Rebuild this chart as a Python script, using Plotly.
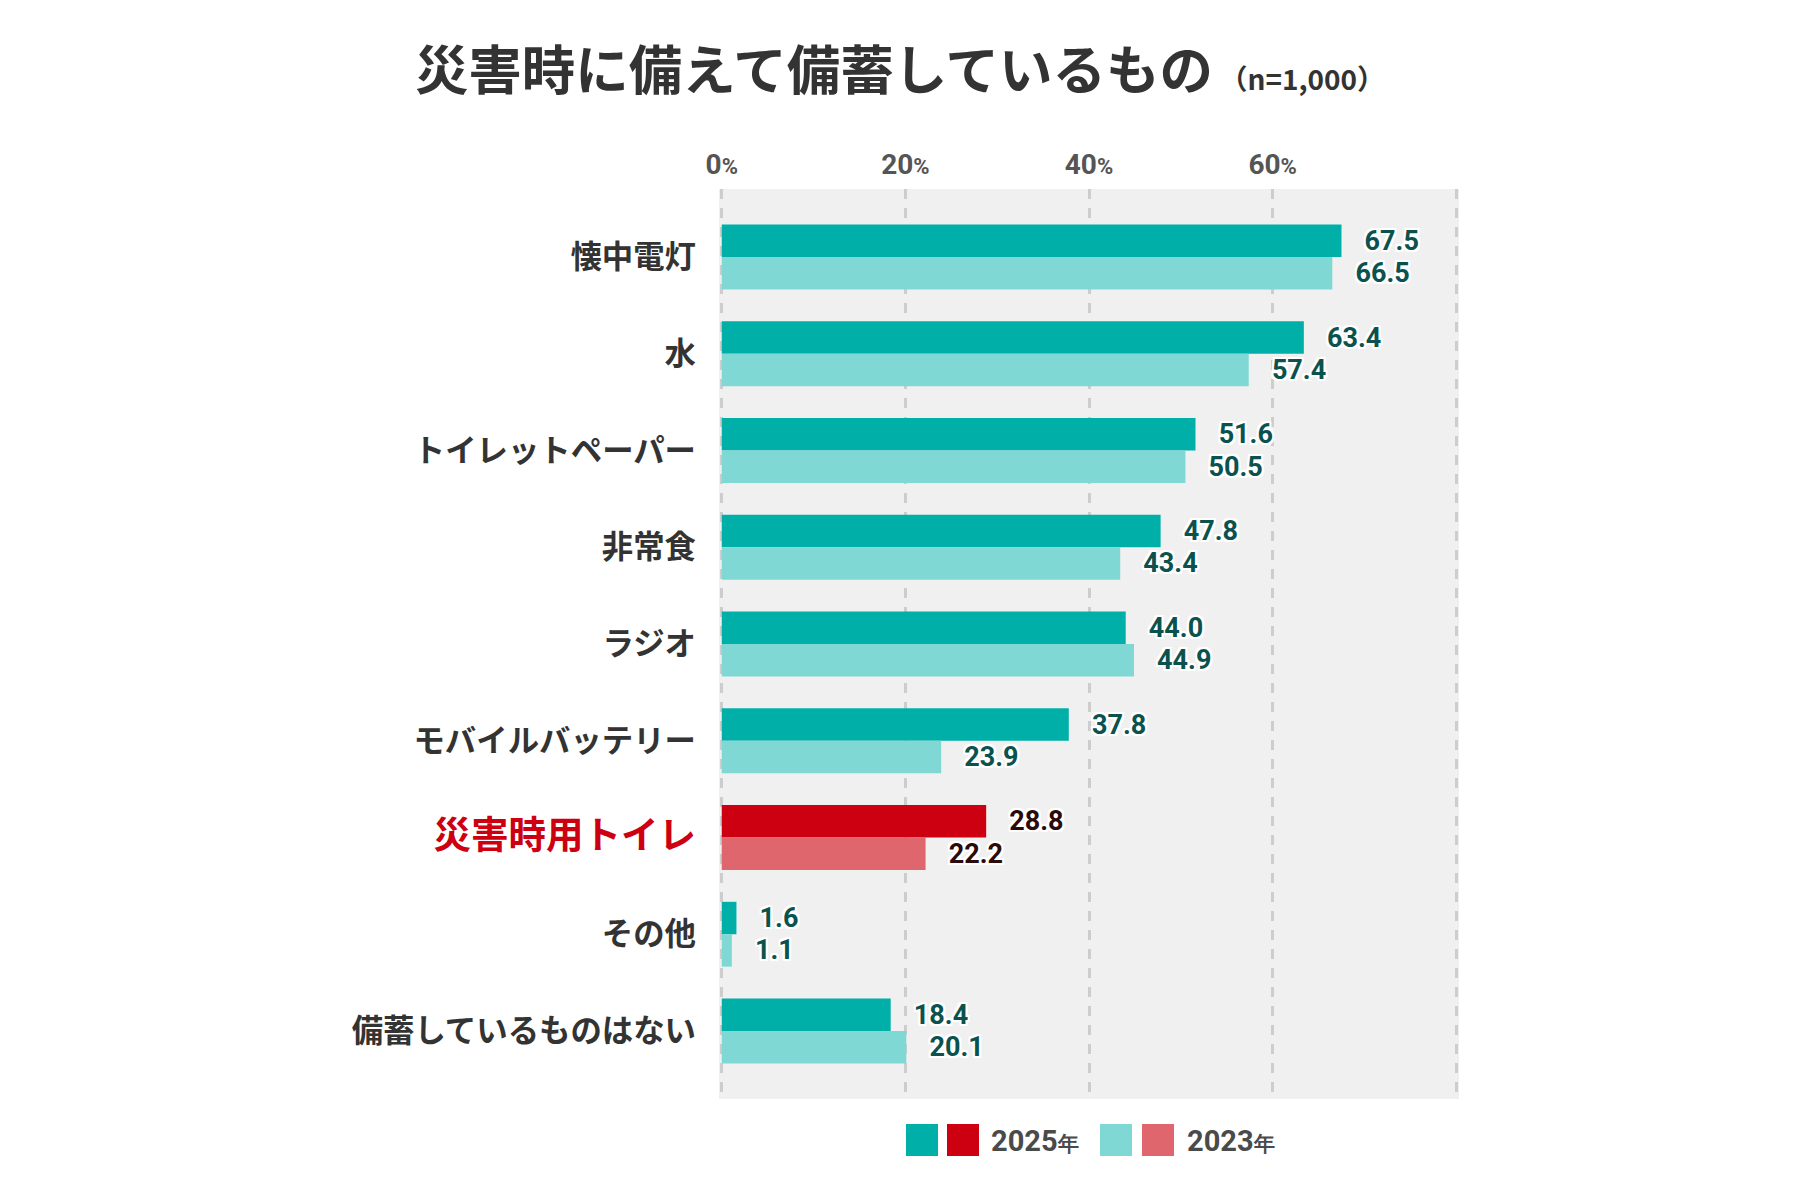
import plotly.graph_objects as go

categories = ["懐中電灯", "水", "トイレットペーパー", "非常食", "ラジオ",
              "モバイルバッテリー", "災害時用トイレ", "その他", "備蓄しているものはない"]
values_2025 = [67.5, 63.4, 51.6, 47.8, 44.0, 37.8, 28.8, 1.6, 18.4]
values_2023 = [66.5, 57.4, 50.5, 43.4, 44.9, 23.9, 22.2, 1.1, 20.1]
highlight = "災害時用トイレ"
x_ticks = [0, 20, 40, 60, 80]
x_ticklabels = ["0", "20", "40", "60", ""]

TEAL, TEAL_L = "#00b0a8", "#80d8d4"
RED, RED_L = "#cc0010", "#e0666e"
TXT_TEAL, TXT_RED = "#0b524e", "#2b0a0a"
JP = "Noto Sans CJK JP"
NUM = "Roboto"

W, H = 1800, 1200
L, R, T, B = 719, 341, 189, 101
PW, PH = W - L - R, H - T - B

def px2paper(x, y):
    return (x - L) / PW, (H - B - y) / PH

c25 = [RED if c == highlight else TEAL for c in categories]
c23 = [RED_L if c == highlight else TEAL_L for c in categories]
t25 = [TXT_RED if c == highlight else TXT_TEAL for c in categories]
t23 = [TXT_RED if c == highlight else TXT_TEAL for c in categories]

shadow = ("2px 2px 0 #fff, -2px -2px 0 #fff, 2px -2px 0 #fff, -2px 2px 0 #fff, "
          "0 2px 0 #fff, 0 -2px 0 #fff, 2px 0 0 #fff, -2px 0 0 #fff")
pad = "\u00a0\u00a0\u00a0"

fig = go.Figure()
for vals, cols, tcols, name in [(values_2025, c25, t25, "2025年"), (values_2023, c23, t23, "2023年")]:
    fig.add_trace(go.Bar(
        y=categories, x=vals, orientation="h", name=name,
        marker=dict(color=cols, line=dict(width=0)),
        texttemplate=pad + "%{x:.1f}", textposition="outside",
        textfont=dict(family=NUM, size=27, color=tcols, weight="bold", shadow=shadow),
        cliponaxis=False, showlegend=False,
    ))

y_ticktext = [
    f"<span style='color:{RED};font-size:37.5px'>{c}</span>" if c == highlight else c
    for c in categories
]

fig.update_layout(
    width=W, height=H, autosize=False,
    margin=dict(l=L, r=R, t=T, b=B),
    paper_bgcolor="white", plot_bgcolor="#f0f0f0",
    barmode="group", bargap=0.33, bargroupgap=0,
    title=dict(
        text="<b>災害時に備えて備蓄しているもの</b><span style='font-size:28px'><b> （n=1,000）</b></span>",
        x=0.5, xref="container", xanchor="center",
        y=1 - 71 / H, yref="container", yanchor="middle",
        font=dict(family=JP, size=53.5, color="#333333", weight=900),
    ),
    xaxis=dict(
        range=[-0.3, 80.3], side="top",
        tickvals=x_ticks,
        ticktext=[f"{t}<span style='font-size:22px'>%</span>" if t else "" for t in x_ticklabels],
        tickfont=dict(family=NUM, size=28, color="#555555", weight="bold"),
        showgrid=True, gridcolor="#cdcdcd", gridwidth=3, griddash="10px,9px",
        zeroline=False, showline=False, ticks="", ticklabelstandoff=8,
        fixedrange=True,
    ),
    yaxis=dict(
        type="category", range=[8.703, -0.703],
        tickvals=categories, ticktext=y_ticktext,
        tickfont=dict(family=JP, size=31.4, color="#333333", weight="bold"),
        showgrid=False, zeroline=False, showline=False, ticks="",
        ticklabelstandoff=22,
    ),
    font=dict(family=JP),
)

# legend drawn as swatches + labels
legend_items = [
    (906, 938, TEAL), (947, 979, RED),
    (1100, 1132, TEAL_L), (1142, 1174, RED_L),
]
for x0, x1, col in legend_items:
    ax0, ay0 = px2paper(x0, 1156)
    ax1, ay1 = px2paper(x1, 1124)
    fig.add_shape(type="rect", xref="paper", yref="paper",
                  x0=ax0, x1=ax1, y0=ay0, y1=ay1,
                  fillcolor=col, line=dict(width=0), layer="above")
for xpos, label in [(989, "2025"), (1185, "2023")]:
    ax, ay = px2paper(xpos, 1141)
    fig.add_annotation(
        xref="paper", yref="paper", x=ax, y=ay, xanchor="left", yanchor="middle",
        text=f"<b>{label}</b><span style='font-size:21px'><b>年</b></span>",
        showarrow=False, font=dict(family=NUM, size=29, color="#4a4a4a"),
    )

fig.write_html("out.html")
